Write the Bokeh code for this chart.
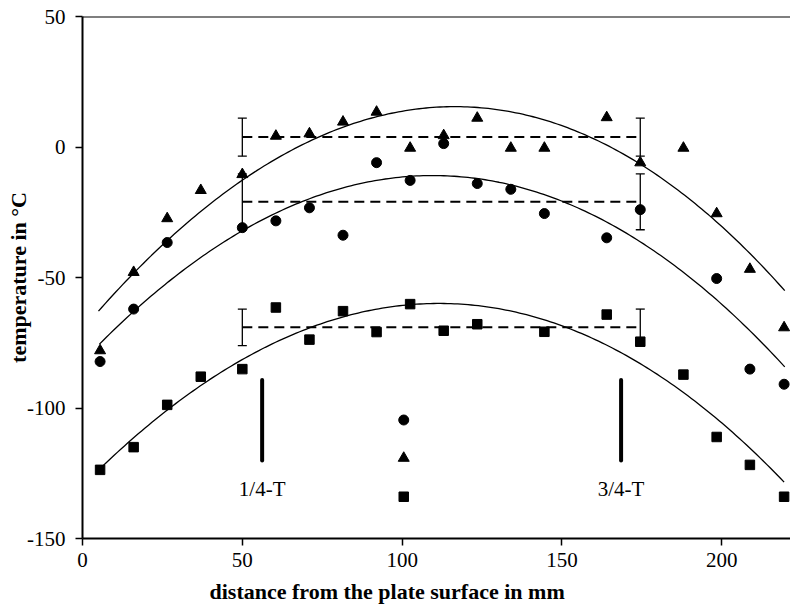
import numpy as np
from bokeh.plotting import figure
from bokeh.models import Range1d, Whisker, TeeHead, ColumnDataSource, Span, Title, FixedTicker
from bokeh.core.properties import value
from bokeh.embed import file_html
from bokeh.resources import INLINE

# ---- data ----
tri_x = [5.5, 16, 26.5, 37, 50, 60.5, 71, 81.5, 92, 102.5, 113, 123.5, 134, 144.5, 164, 174.5, 188, 198.4, 208.8, 219.5]
tri_y = [-78, -48, -27.4, -16.6, -10.5, 4.2, 5.1, 9.6, 13.4, -0.4, 4.4, 11.1, -0.4, -0.4, 11.3, -6.0, -0.4, -25.5, -46.8, -69.2]

circ_x = [5.5, 16, 26.5, 50, 60.5, 71, 81.5, 92, 102.5, 113, 123.5, 134, 144.5, 164, 174.5, 198.4, 208.8, 219.5]
circ_y = [-82.2, -62.1, -36.6, -30.9, -28.3, -23.3, -33.8, -6.0, -12.8, 1.3, -14.0, -16.2, -25.5, -34.8, -24.0, -50.4, -85.1, -90.9]

sq_x = [5.5, 16, 26.5, 37, 50, 60.5, 71, 81.5, 92, 102.5, 113, 123.5, 144.5, 164, 174.5, 188, 198.4, 208.8, 219.5]
sq_y = [-123.7, -115, -98.8, -88, -85.1, -61.5, -73.8, -62.9, -70.9, -60.2, -70.4, -67.9, -70.8, -64.2, -74.6, -87.2, -111.1, -121.8, -134]

# separate markers near x = 100
extra_x = [100.5]
extra_circ_y = [-104.6]
extra_tri_y = [-119.2]
extra_sq_y = [-134.0]

# points
tri_curve_x = [5, 16, 26.4, 50, 68, 113.7, 155.3, 174.5, 197.9, 219.7]
tri_curve_y = [-63.1, -48.2, -36.6, -11.5, 0.6, 14.9, 3.8, -6.4, -24.9, -56.8]
circ_curve_x = [5.3, 16, 50, 61.7, 68, 110, 123.4, 134, 149, 164, 198.4, 208.8, 219.7]
circ_curve_y = [-75.9, -63.5, -30.9, -23.9, -21.0, -10.9, -12.8, -16.0, -21.0, -30.0, -52.9, -69.5, -88.0]
sq_curve_x = [5.6, 16, 26.5, 37, 50, 70, 99, 105, 123.1, 149, 174.5, 188, 198.4, 208.9, 219.5]
sq_curve_y = [-123.1, -113, -100, -90.5, -80.9, -69.1, -61.2, -60.4, -62.5, -69.1, -81, -93.1, -104, -115.4, -129.5]

# mean lines with scatter bands
mean_x0 = [50, 50, 50]
mean_x1 = [174.5, 174.5, 174.5]
mean_y = [3.8, -21.0, -69.1]
mean_err = [7.3, 10.7, 7.0]

# 1/4-T and 3/4-T markers
t_x = [56.2, 168.5]
t_y0 = [-89.3, -89.3]
t_y1 = [-120.1, -120.1]
t_labels = ["1/4-T", "3/4-T"]
t_label_y = [-131.0, -131.0]

x_ticks = [0, 50, 100, 150, 200]
x_tick_labels = ["0", "50", "100", "150", "200"]
y_ticks = [-150, -100, -50, 0, 50]
y_tick_labels = ["-150", "-100", "-50", "0", "50"]

FONT = "Liberation Serif"

p = figure(width=790, height=610, x_range=Range1d(0, 221.5), y_range=Range1d(-150, 50),
           output_backend="svg", toolbar_location=None,
           min_border_left=82, min_border_right=0, min_border_top=16, min_border_bottom=71)
p.grid.visible = False
p.outline_line_color = None
p.background_fill_color = "white"
p.border_fill_color = "white"

xa = p.xaxis[0]
ya = p.yaxis[0]
xa.ticker = FixedTicker(ticks=x_ticks)
ya.ticker = FixedTicker(ticks=y_ticks)
xa.major_label_overrides = {t: s for t, s in zip(x_ticks, x_tick_labels)}
ya.major_label_overrides = {t: s for t, s in zip(y_ticks, y_tick_labels)}
for ax in (xa, ya):
    ax.minor_tick_line_color = None
    ax.major_tick_out = 7
    ax.major_tick_in = 0
    ax.major_tick_line_width = 1.5
    ax.major_tick_line_color = "black"
    ax.axis_line_width = 2
    ax.axis_line_color = "black"
    ax.major_label_text_font = FONT
    ax.major_label_text_font_size = "21px"
    ax.major_label_text_color = "black"
xa.major_label_standoff = 7
ya.major_label_standoff = 10

ya.axis_label = "temperature in °C"
ya.axis_label_text_font = FONT
ya.axis_label_text_font_style = "bold"
ya.axis_label_text_font_size = "22px"
ya.axis_label_text_color = "black"
ya.axis_label_standoff = -7

p.add_layout(Title(text="distance from the plate surface in mm", align="left", offset=127,
                   text_font=FONT, text_font_style="bold", text_font_size="22px",
                   text_color="black", standoff=14), "below")

p.add_layout(Span(location=50, dimension="width", line_color="black", line_width=2))

# fitted curves (cubic fit to points)
for cx, cy in ((tri_curve_x, tri_curve_y), (circ_curve_x, circ_curve_y), (sq_curve_x, sq_curve_y)):
    coef = np.polyfit(cx, cy, 3)
    xs = np.linspace(min(cx), max(cx), 200)
    p.line(xs, np.polyval(coef, xs), line_color="black", line_width=1.3)

# mean dashed lines
p.segment(x0=mean_x0, x1=mean_x1, y0=mean_y, y1=mean_y, line_color="black",
          line_width=2, line_dash="10 6")

# error bars at both ends of the dashed lines
err_base, err_lo, err_hi = [], [], []
for x0, x1, m, e in zip(mean_x0, mean_x1, mean_y, mean_err):
    for b in (x0, x1):
        err_base.append(b)
        err_lo.append(m - e)
        err_hi.append(m + e)
esrc = ColumnDataSource(dict(base=err_base, lower=err_lo, upper=err_hi))
p.add_layout(Whisker(base="base", lower="lower", upper="upper", source=esrc, dimension="height",
                     line_color="black", line_width=1.3,
                     upper_head=TeeHead(size=9, line_width=1.3, line_color="black"),
                     lower_head=TeeHead(size=9, line_width=1.3, line_color="black")))

# data markers
p.scatter(tri_x, tri_y, marker="triangle", size=11, color="black")
p.scatter(circ_x, circ_y, marker="circle", size=10, color="black")
p.scatter(sq_x, sq_y, marker="square", size=9.5, color="black")
p.scatter(extra_x, extra_tri_y, marker="triangle", size=11, color="black")
p.scatter(extra_x, extra_circ_y, marker="circle", size=10, color="black")
p.scatter(extra_x, extra_sq_y, marker="square", size=9.5, color="black")

# 1/4-T and 3/4-T
p.segment(x0=t_x, x1=t_x, y0=t_y0, y1=t_y1, line_color="black", line_width=4, line_cap="round")
p.text(x=t_x, y=t_label_y, text=t_labels, text_font=value(FONT), text_font_size="21px",
       text_align="center", text_baseline="alphabetic", text_color="black")

open("out.html", "w").write(file_html(p, INLINE))
